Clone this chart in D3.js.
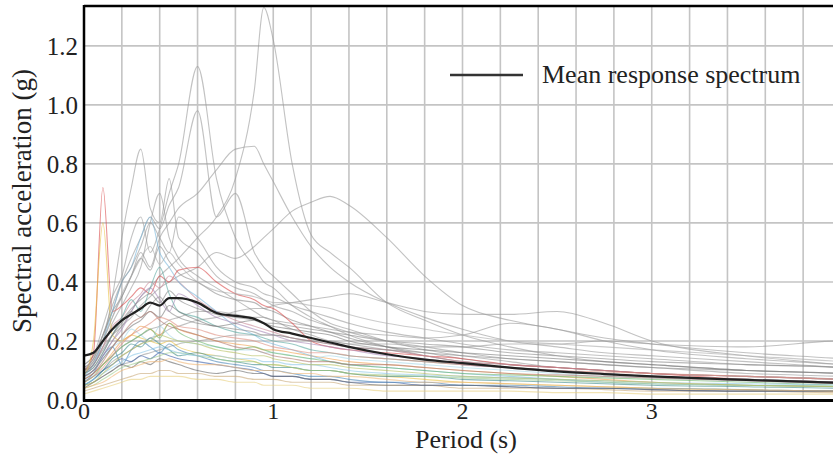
<!DOCTYPE html>
<html>
<head>
<meta charset="utf-8">
<script src="https://cdn.jsdelivr.net/npm/d3@7/dist/d3.min.js"></script>
<style>
  html, body { margin: 0; padding: 0; background: #fff; }
  svg { display: block; }
  svg text { font-family: "Liberation Serif", "DejaVu Serif", serif; fill: #222; }
</style>
</head>
<body>
<svg id="chart" width="833" height="457"></svg>
<script>
// periods (s) shared by every spectrum
const periods = [0, 0.05, 0.1, 0.15, 0.2, 0.25, 0.3, 0.35, 0.4, 0.45, 0.5, 0.6, 0.7, 0.8, 0.9, 0.95,
                 1.0, 1.1, 1.2, 1.3, 1.4, 1.6, 1.8, 2.0, 2.25, 2.5, 2.75, 3.0, 3.5, 4.0, 4.2];

// mean response spectrum (g)
const meanSA = [0.15, 0.16, 0.20, 0.24, 0.27, 0.29, 0.31, 0.33, 0.32, 0.345, 0.345, 0.33, 0.295, 0.285, 0.275, 0.26,
                0.24, 0.225, 0.21, 0.195, 0.18, 0.155, 0.137, 0.125, 0.11, 0.097, 0.088, 0.08, 0.068, 0.058, 0.055];

// individual ground motion spectra (g)
const records = [
  [0.10,0.12,0.18,0.22,0.25,0.30,0.35,0.38,0.42,0.45,0.48,0.55,0.62,0.75,1.05,1.33,1.22,0.80,0.56,0.50,0.45,0.33,0.27,0.22,0.18,0.15,0.13,0.12,0.10,0.09,0.085],
  [0.12,0.15,0.25,0.35,0.42,0.55,0.62,0.50,0.58,0.70,0.80,1.13,0.75,0.55,0.45,0.40,0.38,0.32,0.28,0.25,0.22,0.18,0.15,0.13,0.11,0.10,0.09,0.08,0.07,0.06,0.055],
  [0.11,0.14,0.22,0.30,0.40,0.48,0.55,0.62,0.58,0.66,0.72,0.98,0.62,0.70,0.50,0.45,0.42,0.36,0.30,0.26,0.24,0.20,0.17,0.15,0.13,0.11,0.10,0.09,0.08,0.07,0.065],
  [0.10,0.13,0.20,0.28,0.35,0.42,0.50,0.45,0.55,0.60,0.65,0.70,0.78,0.85,0.86,0.80,0.74,0.62,0.52,0.45,0.40,0.33,0.28,0.24,0.20,0.18,0.16,0.15,0.13,0.11,0.10],
  [0.08,0.10,0.15,0.20,0.25,0.28,0.32,0.35,0.38,0.40,0.42,0.45,0.50,0.48,0.52,0.55,0.58,0.64,0.67,0.69,0.66,0.55,0.42,0.32,0.27,0.24,0.21,0.19,0.16,0.14,0.13],
  [0.06,0.08,0.10,0.13,0.15,0.17,0.19,0.21,0.22,0.24,0.25,0.27,0.28,0.30,0.31,0.31,0.32,0.33,0.34,0.35,0.36,0.33,0.30,0.29,0.29,0.30,0.26,0.20,0.15,0.12,0.11],
  [0.05,0.06,0.08,0.10,0.12,0.13,0.15,0.16,0.17,0.18,0.19,0.20,0.21,0.22,0.22,0.22,0.22,0.21,0.20,0.20,0.19,0.19,0.18,0.18,0.19,0.19,0.20,0.19,0.18,0.20,0.20],
  [0.07,0.09,0.12,0.15,0.18,0.20,0.22,0.24,0.25,0.27,0.28,0.30,0.30,0.29,0.28,0.28,0.27,0.26,0.25,0.24,0.23,0.22,0.21,0.22,0.26,0.24,0.20,0.17,0.14,0.12,0.11],
  [0.12,0.15,0.22,0.30,0.35,0.42,0.48,0.44,0.52,0.47,0.43,0.40,0.36,0.34,0.33,0.31,0.30,0.27,0.25,0.23,0.21,0.18,0.16,0.14,0.12,0.11,0.10,0.09,0.08,0.07,0.065],
  [0.10,0.12,0.18,0.26,0.32,0.38,0.45,0.60,0.70,0.55,0.48,0.42,0.38,0.34,0.30,0.28,0.27,0.24,0.22,0.20,0.19,0.17,0.15,0.13,0.12,0.11,0.10,0.09,0.08,0.07,0.06],
  [0.10,0.13,0.20,0.35,0.55,0.72,0.85,0.65,0.60,0.75,0.55,0.50,0.42,0.38,0.36,0.34,0.32,0.30,0.27,0.25,0.23,0.20,0.18,0.16,0.14,0.13,0.12,0.11,0.09,0.08,0.075],
  [0.10,0.16,0.72,0.30,0.32,0.35,0.38,0.36,0.42,0.40,0.44,0.45,0.40,0.36,0.34,0.32,0.31,0.26,0.20,0.18,0.17,0.16,0.15,0.14,0.12,0.11,0.10,0.09,0.07,0.06,0.055],
  [0.09,0.12,0.18,0.25,0.28,0.33,0.36,0.40,0.38,0.42,0.40,0.34,0.30,0.27,0.25,0.24,0.23,0.21,0.20,0.19,0.18,0.17,0.15,0.13,0.12,0.11,0.10,0.09,0.08,0.07,0.065],
  [0.08,0.20,0.60,0.22,0.20,0.22,0.21,0.20,0.19,0.20,0.18,0.16,0.15,0.14,0.13,0.12,0.12,0.11,0.10,0.10,0.09,0.08,0.07,0.06,0.055,0.05,0.045,0.04,0.035,0.03,0.03],
  [0.07,0.09,0.12,0.16,0.20,0.22,0.25,0.24,0.22,0.26,0.24,0.22,0.20,0.19,0.18,0.17,0.17,0.16,0.15,0.14,0.13,0.12,0.11,0.10,0.09,0.08,0.07,0.06,0.05,0.045,0.04],
  [0.02,0.03,0.04,0.05,0.06,0.07,0.07,0.08,0.08,0.08,0.08,0.07,0.07,0.06,0.06,0.05,0.05,0.05,0.04,0.04,0.04,0.03,0.03,0.03,0.03,0.025,0.025,0.02,0.02,0.02,0.02],
  [0.03,0.04,0.05,0.06,0.07,0.08,0.09,0.09,0.10,0.10,0.09,0.09,0.08,0.08,0.07,0.07,0.07,0.06,0.06,0.06,0.05,0.05,0.05,0.04,0.04,0.04,0.035,0.03,0.03,0.025,0.025],
  [0.05,0.07,0.10,0.12,0.14,0.13,0.15,0.14,0.16,0.15,0.14,0.13,0.12,0.11,0.10,0.09,0.08,0.08,0.07,0.07,0.06,0.06,0.05,0.05,0.045,0.04,0.04,0.035,0.03,0.03,0.03],
  [0.08,0.12,0.20,0.30,0.40,0.45,0.55,0.62,0.50,0.45,0.40,0.35,0.30,0.25,0.22,0.20,0.19,0.17,0.15,0.13,0.12,0.11,0.10,0.09,0.08,0.07,0.06,0.055,0.05,0.045,0.04],
  [0.06,0.09,0.15,0.18,0.12,0.17,0.20,0.18,0.16,0.19,0.17,0.15,0.13,0.12,0.11,0.10,0.10,0.09,0.08,0.08,0.07,0.06,0.06,0.05,0.05,0.045,0.04,0.04,0.035,0.03,0.03],
  [0.07,0.10,0.14,0.18,0.20,0.24,0.22,0.20,0.25,0.22,0.20,0.19,0.18,0.17,0.17,0.16,0.16,0.15,0.14,0.15,0.14,0.13,0.12,0.11,0.10,0.09,0.08,0.075,0.065,0.055,0.05],
  [0.09,0.11,0.16,0.22,0.28,0.34,0.30,0.38,0.45,0.36,0.30,0.28,0.25,0.23,0.22,0.21,0.20,0.19,0.17,0.16,0.15,0.14,0.13,0.12,0.11,0.10,0.09,0.08,0.07,0.06,0.055],
  [0.06,0.08,0.12,0.15,0.18,0.20,0.22,0.24,0.21,0.26,0.23,0.20,0.18,0.17,0.18,0.17,0.16,0.15,0.14,0.13,0.12,0.11,0.10,0.09,0.085,0.08,0.075,0.07,0.06,0.05,0.045],
  [0.05,0.07,0.10,0.14,0.16,0.19,0.18,0.21,0.19,0.17,0.15,0.16,0.14,0.13,0.12,0.12,0.11,0.11,0.10,0.10,0.09,0.08,0.08,0.07,0.065,0.06,0.055,0.05,0.045,0.04,0.04],
  [0.08,0.10,0.15,0.20,0.24,0.30,0.35,0.38,0.34,0.30,0.36,0.32,0.28,0.26,0.24,0.23,0.22,0.20,0.19,0.18,0.17,0.15,0.14,0.12,0.11,0.10,0.09,0.08,0.07,0.06,0.055],
  [0.04,0.06,0.08,0.10,0.12,0.11,0.13,0.12,0.14,0.13,0.12,0.10,0.09,0.10,0.09,0.09,0.08,0.08,0.07,0.07,0.06,0.05,0.05,0.05,0.045,0.04,0.04,0.035,0.03,0.03,0.03],
  [0.09,0.11,0.16,0.22,0.26,0.30,0.28,0.32,0.35,0.30,0.28,0.26,0.25,0.24,0.23,0.22,0.22,0.21,0.20,0.19,0.18,0.17,0.16,0.15,0.14,0.13,0.12,0.11,0.10,0.09,0.085],
  [0.08,0.10,0.14,0.18,0.22,0.25,0.27,0.30,0.28,0.32,0.30,0.27,0.25,0.26,0.27,0.26,0.25,0.24,0.23,0.22,0.20,0.18,0.17,0.16,0.15,0.14,0.13,0.12,0.10,0.09,0.08],
  [0.10,0.14,0.20,0.28,0.36,0.42,0.48,0.52,0.46,0.50,0.46,0.40,0.37,0.36,0.35,0.34,0.33,0.33,0.32,0.31,0.29,0.26,0.24,0.22,0.20,0.19,0.18,0.17,0.15,0.13,0.12],
  [0.11,0.14,0.22,0.32,0.40,0.45,0.52,0.60,0.55,0.50,0.62,0.55,0.45,0.40,0.38,0.36,0.35,0.32,0.30,0.28,0.26,0.23,0.21,0.19,0.17,0.16,0.15,0.14,0.12,0.11,0.10],
  [0.07,0.09,0.13,0.18,0.22,0.26,0.28,0.30,0.27,0.25,0.24,0.22,0.20,0.18,0.17,0.16,0.15,0.14,0.13,0.13,0.12,0.12,0.11,0.10,0.09,0.085,0.08,0.075,0.065,0.055,0.05],
  [0.04,0.05,0.07,0.09,0.11,0.12,0.13,0.14,0.15,0.16,0.16,0.15,0.14,0.13,0.13,0.12,0.12,0.11,0.10,0.10,0.09,0.085,0.08,0.075,0.07,0.065,0.06,0.055,0.05,0.045,0.04],
  [0.06,0.08,0.11,0.15,0.19,0.22,0.24,0.26,0.28,0.27,0.25,0.24,0.22,0.21,0.20,0.19,0.18,0.17,0.16,0.16,0.15,0.14,0.13,0.12,0.11,0.10,0.095,0.09,0.08,0.07,0.065],
  [0.05,0.07,0.09,0.11,0.13,0.15,0.16,0.17,0.18,0.17,0.16,0.15,0.15,0.14,0.14,0.13,0.13,0.12,0.12,0.11,0.10,0.09,0.085,0.08,0.075,0.07,0.065,0.06,0.055,0.05,0.045],
  [0.09,0.12,0.17,0.22,0.27,0.31,0.34,0.36,0.33,0.37,0.34,0.31,0.29,0.28,0.27,0.26,0.26,0.25,0.24,0.23,0.22,0.20,0.19,0.18,0.16,0.15,0.14,0.13,0.12,0.11,0.10],
  [0.05,0.06,0.09,0.12,0.15,0.17,0.19,0.20,0.22,0.21,0.20,0.19,0.17,0.16,0.15,0.15,0.14,0.13,0.12,0.12,0.11,0.10,0.09,0.08,0.075,0.07,0.065,0.06,0.05,0.045,0.04],
  [0.04,0.05,0.06,0.08,0.10,0.11,0.12,0.13,0.13,0.14,0.13,0.12,0.12,0.11,0.10,0.10,0.10,0.09,0.09,0.08,0.08,0.07,0.06,0.06,0.055,0.05,0.045,0.04,0.035,0.03,0.03]
];

const recordColors = [
  '#9a9a9a', '#9a9a9a', '#9a9a9a', '#9a9a9a', '#9a9a9a', '#9a9a9a', '#9a9a9a', '#9a9a9a',
  '#8c8c8c', '#9a9a9a', '#9a9a9a', '#d94a4a', '#c98a9a', '#e8c040', '#f0a050', '#e8d080',
  '#c8a878', '#3a5fa8', '#7ab8dc', '#4a86b8', '#a8d8e8', '#5aa8a0', '#6cb86c', '#3d8a8a',
  '#a888b8', '#666666', '#8a8a8a', '#7a7a7a', '#aaaaaa', '#9a9a9a', '#b07a70',
  '#9ccc8c', '#e09080', '#8ec8e8', '#8a8a8a', '#b8c060', '#f0b878'
];

const yTicks = [0, 0.2, 0.4, 0.6, 0.8, 1.0, 1.2];
const xTicks = [0, 1, 2, 3, 4];

const svg = d3.select('#chart');
const x = d3.scaleLinear().domain([0, 4]).range([84, 841]);
const y = d3.scaleLinear().domain([0, 1.335]).range([400, 6]);

// grid
const grid = svg.append('g').attr('class', 'grid');
grid.selectAll('line.v')
  .data(d3.range(1, 22).map(i => i * 0.2))
  .enter().append('line')
  .attr('x1', d => x(d)).attr('x2', d => x(d))
  .attr('y1', y.range()[1]).attr('y2', y.range()[0])
  .attr('stroke', '#c4c4c4').attr('stroke-width', 1.6);
grid.selectAll('line.h')
  .data(yTicks.slice(1))
  .enter().append('line')
  .attr('x1', x(0)).attr('x2', 833)
  .attr('y1', d => y(d)).attr('y2', d => y(d))
  .attr('stroke', '#c4c4c4').attr('stroke-width', 1.6);

svg.append('clipPath').attr('id', 'plotclip')
  .append('rect').attr('x', 84).attr('y', 6).attr('width', 760).attr('height', 394);

const line = d3.line()
  .x((d, i) => x(periods[i]))
  .y(d => y(d))
  .curve(d3.curveMonotoneX);

const plot = svg.append('g').attr('clip-path', 'url(#plotclip)');
plot.selectAll('path.rec')
  .data(records)
  .enter().append('path')
  .attr('class', 'rec')
  .attr('d', line)
  .attr('fill', 'none')
  .attr('stroke', (d, i) => recordColors[i])
  .attr('stroke-width', 1.1)
  .attr('opacity', 0.6);

plot.append('path')
  .datum(meanSA)
  .attr('d', line)
  .attr('fill', 'none')
  .attr('stroke', '#222')
  .attr('stroke-width', 2.2);

// frame
svg.append('line').attr('x1', 84).attr('x2', 833).attr('y1', 6).attr('y2', 6)
  .attr('stroke', '#000').attr('stroke-width', 2.5);
svg.append('line').attr('x1', 84).attr('x2', 84).attr('y1', 5).attr('y2', 401.5)
  .attr('stroke', '#000').attr('stroke-width', 2.5);
svg.append('line').attr('x1', 83).attr('x2', 833).attr('y1', 400.5).attr('y2', 400.5)
  .attr('stroke', '#000').attr('stroke-width', 3);

// tick labels
svg.append('g').selectAll('text')
  .data(yTicks)
  .enter().append('text')
  .attr('x', 78)
  .attr('y', d => y(d))
  .attr('dy', '0.35em')
  .attr('text-anchor', 'end')
  .style('font-size', '25px')
  .text(d => d3.format('.1f')(d));

svg.append('g').selectAll('text')
  .data(xTicks)
  .enter().append('text')
  .attr('x', d => x(d))
  .attr('y', 419)
  .attr('text-anchor', 'middle')
  .style('font-size', '24px')
  .text(d => d);

// axis titles
svg.append('text')
  .attr('x', 466).attr('y', 448)
  .attr('text-anchor', 'middle')
  .style('font-size', '26px')
  .text('Period (s)');

svg.append('text')
  .attr('transform', 'translate(31,201) rotate(-90)')
  .attr('text-anchor', 'middle')
  .style('font-size', '27px')
  .text('Spectral acceleration (g)');

// legend
svg.append('line').attr('x1', 450).attr('x2', 523).attr('y1', 75).attr('y2', 75)
  .attr('stroke', '#333').attr('stroke-width', 2.5);
svg.append('text')
  .attr('x', 542).attr('y', 83)
  .style('font-size', '26px')
  .text('Mean response spectrum');
</script>
</body>
</html>
